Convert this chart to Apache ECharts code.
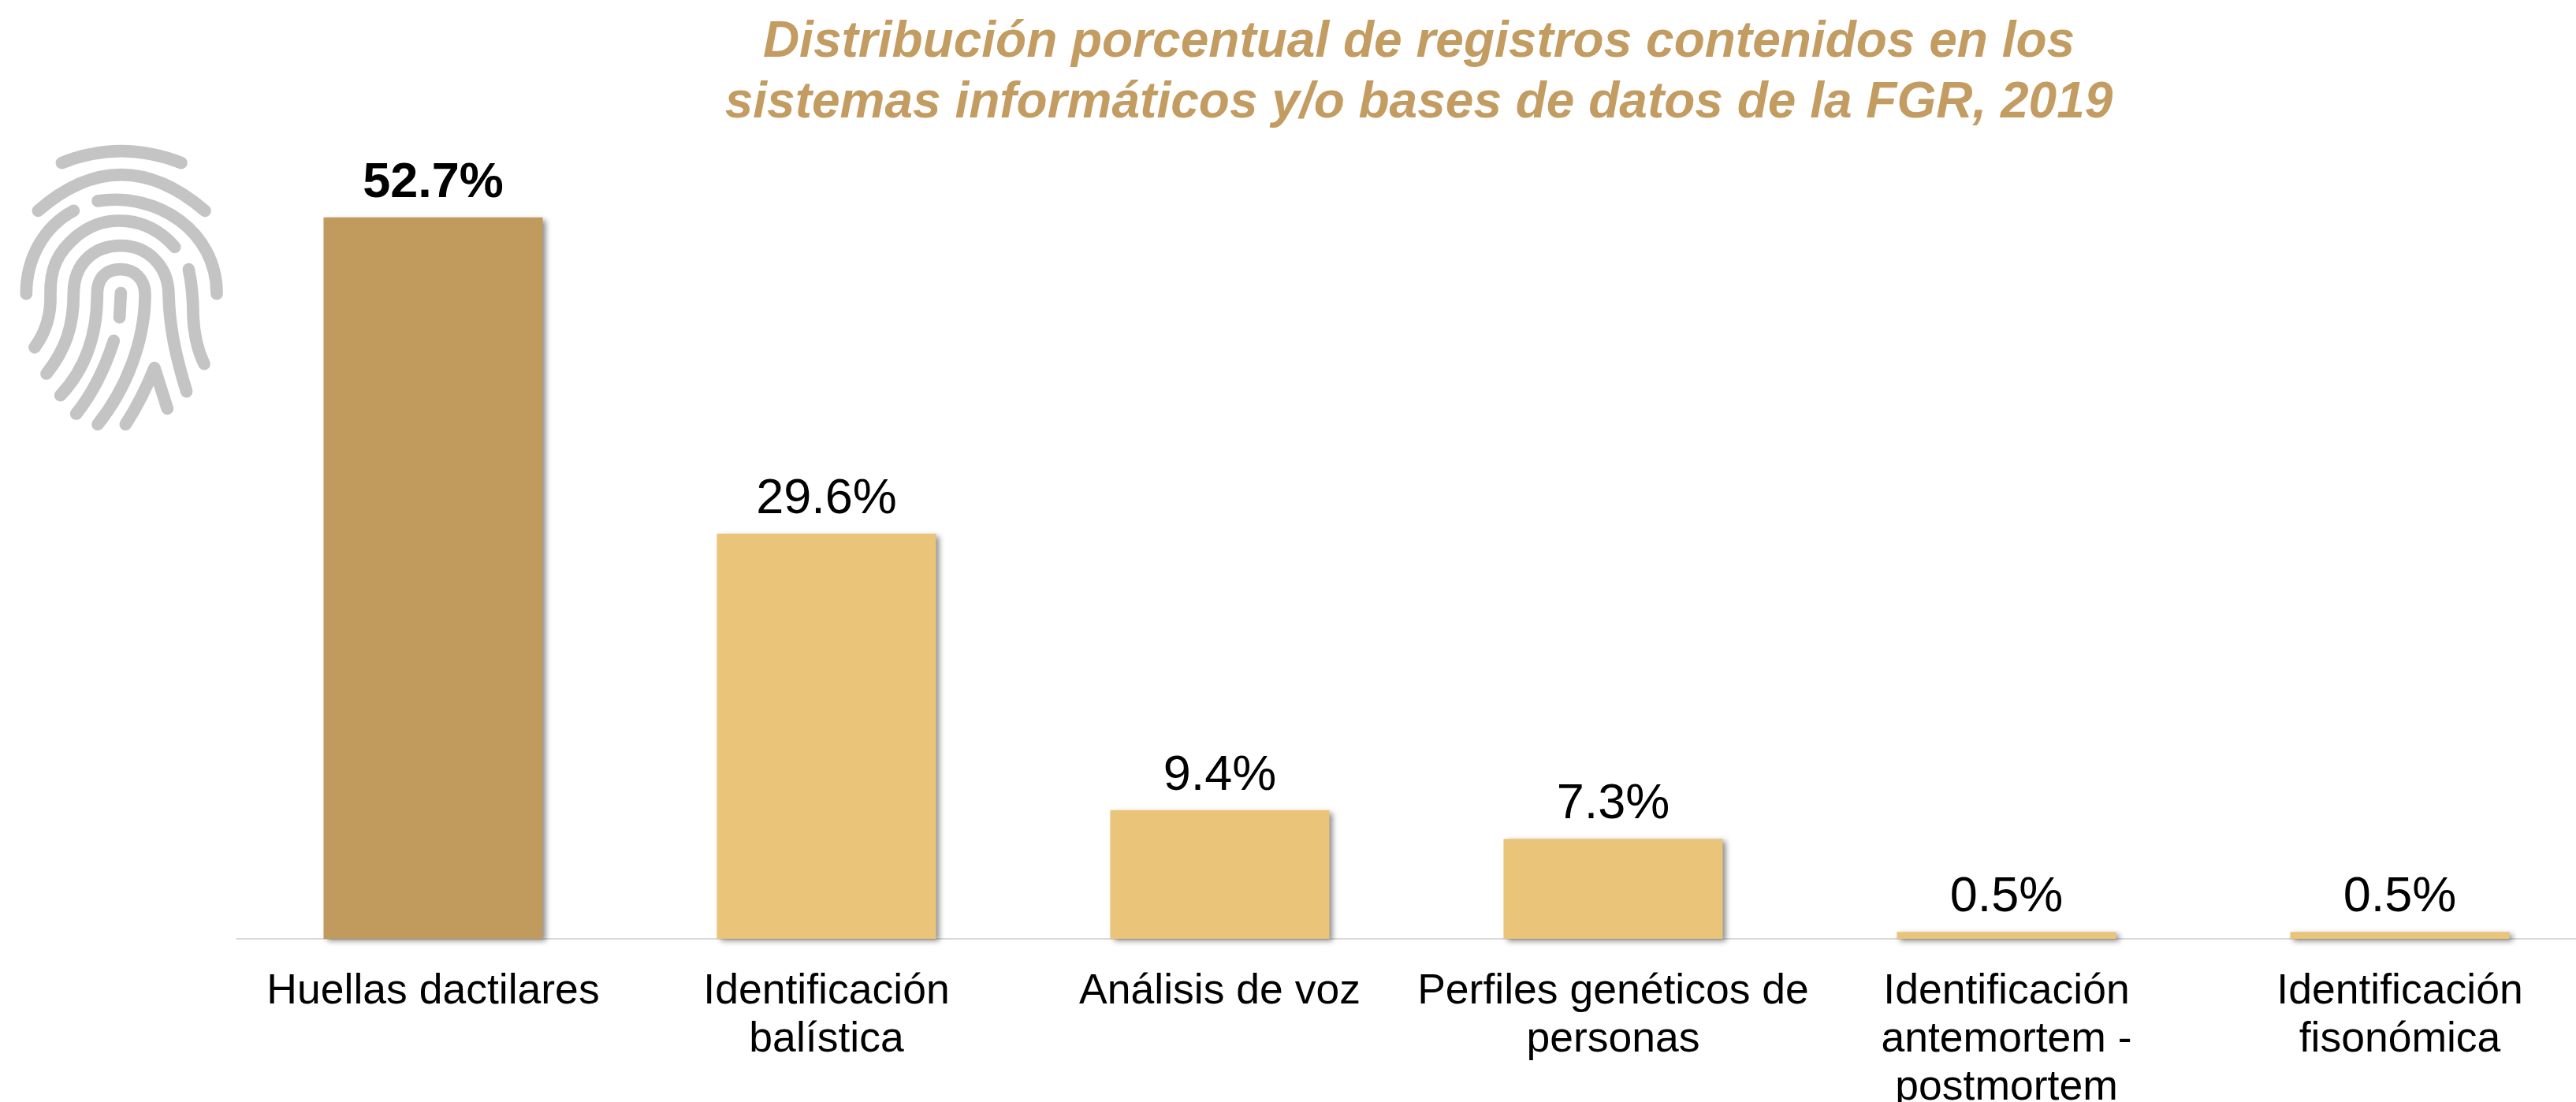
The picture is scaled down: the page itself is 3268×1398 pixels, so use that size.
<!DOCTYPE html>
<html>
<head>
<meta charset="utf-8">
<style>
  html, body { margin: 0; padding: 0; background: #fff; }
  #chart { width: 3268px; height: 1398px; }
</style>
<script src="https://cdn.jsdelivr.net/npm/echarts@6/dist/echarts.min.js"></script>
</head>
<body>
<div id="chart"></div>
<script>
const titleText = "Distribución porcentual de registros contenidos en los\nsistemas informáticos y/o bases de datos de la FGR, 2019";
const categories = [
  "Huellas dactilares",
  "Identificación\nbalística",
  "Análisis de voz",
  "Perfiles genéticos de\npersonas",
  "Identificación\nantemortem -\npostmortem",
  "Identificación\nfisonómica",
];
const values = [52.7, 29.6, 9.4, 7.3, 0.5, 0.5];

const FONT = '"Liberation Sans", Arial, sans-serif';
const DARK_GOLD = "#c19a5e";
const LIGHT_GOLD = "#e9c479";

// fingerprint icon, stroked paths
const fingerprintPaths = [
  "M235 140 Q460 50 690 140",
  "M145 322 Q460 48 780 322",
  "M372 285 C600 250 825 400 825 638",
  "M280 322 C170 380 100 500 100 638",
  "M665 460 C560 340 400 330 290 420 C220 480 190 540 192 640 C195 720 170 790 132 842",
  "M177 942 C250 850 280 760 280 640 C280 520 360 455 460 455 C560 455 640 530 642 640 C645 770 670 880 710 1010",
  "M230 1025 C320 930 370 800 370 640 C370 570 410 545 460 545 C510 545 552 580 552 640 C552 820 480 1000 372 1135",
  "M460 635 L455 728",
  "M433 817 C400 920 350 1020 290 1095",
  "M478 1135 Q540 1040 588 920 L637 1075",
  "M718 545 C730 600 735 650 735 720 C738 790 755 860 777 905",
];

function renderFingerprint() {
  return {
    type: "group",
    x: 0,
    y: 160,
    scaleX: 1 / 3,
    scaleY: 1 / 3,
    children: fingerprintPaths.map((pathData) => ({
      type: "path",
      shape: { pathData },
      style: { fill: "none", stroke: "#c4c4c4", lineWidth: 47, lineCap: "round", lineJoin: "round" },
    })),
  };
}

const chart = echarts.init(document.getElementById("chart"), null, { renderer: "canvas" });

chart.setOption({
  backgroundColor: "#fff",
  animation: false,
  title: {
    text: titleText,
    left: 1795,
    top: 11,
    textAlign: "center",
    textStyle: {
      fontFamily: FONT,
      fontSize: 64,
      fontWeight: "bold",
      fontStyle: "italic",
      color: "#c39c62",
      lineHeight: 77,
    },
  },
  grid: { left: 300, top: 149, width: 2994, height: 1042, outerBoundsMode: "none" },
  xAxis: {
    type: "category",
    data: categories,
    axisTick: { show: false },
    axisLine: { show: true, lineStyle: { color: "#d9d9d9", width: 2 } },
    axisLabel: {
      interval: 0,
      margin: 37,
      fontFamily: FONT,
      fontSize: 53.5,
      lineHeight: 61,
      color: "#000",
    },
  },
  yAxis: { type: "value", min: 0, max: 60, show: false, splitLine: { show: false } },
  series: [
    {
      type: "bar",
      barWidth: 278,
      data: values.map((value, index) => ({
        value,
        itemStyle: { color: index === 0 ? DARK_GOLD : LIGHT_GOLD },
        label: { fontWeight: index === 0 ? "bold" : "normal" },
      })),
      itemStyle: {
        shadowColor: "rgba(0,0,0,0.45)",
        shadowBlur: 7,
        shadowOffsetX: 4,
        shadowOffsetY: 3,
      },
      label: {
        show: true,
        position: "top",
        distance: 12,
        fontFamily: FONT,
        fontSize: 63,
        color: "#000",
        formatter: (p) => p.value.toFixed(1) + "%",
      },
    },
    {
      type: "custom",
      coordinateSystem: "none",
      silent: true,
      data: [0],
      renderItem: renderFingerprint,
    },
  ],
});
</script>
</body>
</html>
